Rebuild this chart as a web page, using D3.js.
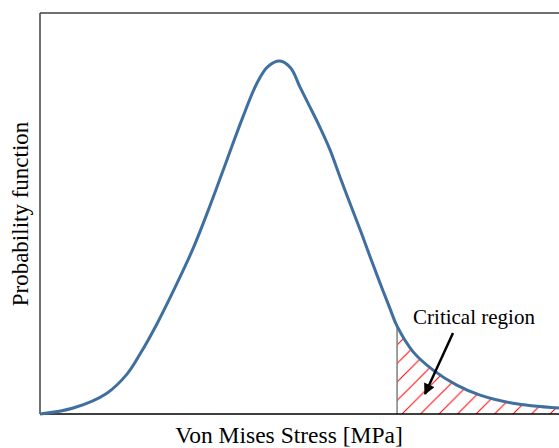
<!DOCTYPE html>
<html>
<head>
<meta charset="utf-8">
<script src="https://cdn.jsdelivr.net/npm/d3@7"></script>
<style>
  body { margin: 0; background: #fff; }
  text { font-family: "Liberation Serif", "Times New Roman", serif; fill: #000; }
</style>
</head>
<body>
<script>
// stress (arbitrary units 0..100) and probability density (0..1)
const stress  = [0, 6.4, 12.9, 16.8, 19.3, 22.5, 26.0, 29.5, 32.8, 36.0, 39.1, 41.8, 43.9, 46.2, 48.3, 50.1, 52.0, 53.9, 55.9, 57.8, 59.7, 61.7, 63.6, 65.5, 67.4, 68.8, 71.9, 75.7, 80.3, 84.8, 91.1, 100];
const density = [0, 0.015, 0.052, 0.100, 0.150, 0.224, 0.315, 0.413, 0.521, 0.633, 0.741, 0.825, 0.866, 0.880, 0.863, 0.815, 0.766, 0.716, 0.658, 0.591, 0.526, 0.459, 0.392, 0.327, 0.264, 0.219, 0.155, 0.110, 0.072, 0.047, 0.027, 0.015];
const criticalStress = 68.8;

const width = 559;
const height = 448;

const x = d3.scaleLinear().domain([0, 100]).range([40, 559]);
const y = d3.scaleLinear().domain([0, 1]).range([414, 13]);

const points = stress.map((s, i) => ({ s: s, p: density[i] }));

const svg = d3.create("svg")
    .attr("width", width)
    .attr("height", height);

const defs = svg.append("defs");

defs.append("marker")
    .attr("id", "arrow")
    .attr("viewBox", "0 0 10 10")
    .attr("refX", 9)
    .attr("refY", 5)
    .attr("markerWidth", 5)
    .attr("markerHeight", 4.5)
    .attr("markerUnits", "strokeWidth")
    .attr("orient", "auto")
    .append("path")
    .attr("d", "M0,0 L10,5 L0,10 Z")
    .attr("fill", "#000");

// red "/" hatching
const step = 18.5;
const pattern = defs.append("pattern")
    .attr("id", "hatch")
    .attr("patternUnits", "userSpaceOnUse")
    .attr("x", x(criticalStress) + 5)
    .attr("y", y(0))
    .attr("width", step)
    .attr("height", step);

pattern.append("path")
    .attr("d", `M0,${step} L${step},0 M${-step / 2},${step / 2} L${step / 2},${-step / 2} M${step / 2},${step * 1.5} L${step * 1.5},${step / 2}`)
    .attr("stroke", "#ff0000")
    .attr("stroke-width", 1);

const curve = d3.curveCatmullRom.alpha(0.5);

// critical region under the curve
const tail = points.filter(d => d.s >= criticalStress);

const area = d3.area()
    .x(d => x(d.s))
    .y0(y(0))
    .y1(d => y(d.p))
    .curve(curve);

svg.append("path")
    .attr("d", area(tail))
    .attr("fill", "url(#hatch)");

svg.append("line")
    .attr("x1", x(criticalStress))
    .attr("x2", x(criticalStress))
    .attr("y1", y(0))
    .attr("y2", y(tail[0].p))
    .attr("stroke", "#7f7f7f")
    .attr("stroke-width", 1.5);

// frame
svg.append("line")
    .attr("x1", 40).attr("x2", 40)
    .attr("y1", 13).attr("y2", 414)
    .attr("stroke", "#404040")
    .attr("stroke-width", 1.5);

svg.append("line")
    .attr("x1", 40).attr("x2", width)
    .attr("y1", 13).attr("y2", 13)
    .attr("stroke", "#404040")
    .attr("stroke-width", 1.5);

svg.append("line")
    .attr("x1", 40).attr("x2", width)
    .attr("y1", y(0)).attr("y2", y(0))
    .attr("stroke", "#000")
    .attr("stroke-width", 1.5);

const line = d3.line()
    .x(d => x(d.s))
    .y(d => y(d.p))
    .curve(curve);

svg.append("path")
    .datum(points)
    .attr("d", line)
    .attr("fill", "none")
    .attr("stroke", "#3f6f9f")
    .attr("stroke-width", 3)
    .attr("stroke-linejoin", "round");

// annotation
svg.append("text")
    .attr("x", 474)
    .attr("y", 324)
    .attr("text-anchor", "middle")
    .attr("font-size", "21px")
    .text("Critical region");

svg.append("line")
    .attr("x1", 453).attr("y1", 333)
    .attr("x2", 425).attr("y2", 394)
    .attr("stroke", "#000")
    .attr("stroke-width", 2.5)
    .attr("marker-end", "url(#arrow)");

// axis titles
svg.append("text")
    .attr("x", 289)
    .attr("y", 443)
    .attr("text-anchor", "middle")
    .attr("font-size", "23.5px")
    .text("Von Mises Stress [MPa]");

svg.append("text")
    .attr("transform", "translate(28,214) rotate(-90)")
    .attr("text-anchor", "middle")
    .attr("font-size", "23px")
    .text("Probability function");

document.body.appendChild(svg.node());
</script>
</body>
</html>
